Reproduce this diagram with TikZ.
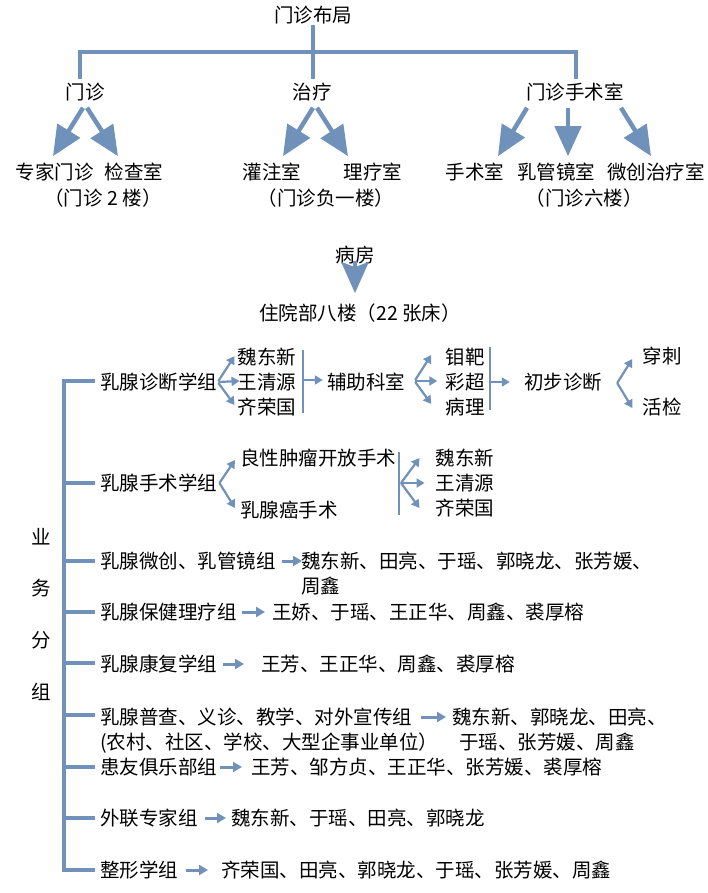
\documentclass[tikz,border=0pt]{standalone}
\usepackage{fontspec}
\setmainfont{Noto Sans CJK SC}
\usetikzlibrary{arrows.meta,calc}
\definecolor{lb}{RGB}{112,146,186}
\begin{document}
\begin{tikzpicture}[x=1pt,y=-1pt,
  every node/.style={inner sep=0pt, text height=16.8pt, text depth=2.4pt, font=\fontsize{19.5}{24}\selectfont},
  tree/.style={draw=lb, line width=4.5pt},
  bigarrow/.style={draw=lb, line width=4.5pt, -{Triangle[length=30pt,width=26pt]}},
  smallarrow/.style={draw=lb, line width=2.2pt, -{Triangle[length=8pt,width=9pt]}},
  midarrow/.style={draw=lb, line width=3pt, -{Triangle[length=9pt,width=10pt]}},
  vbar/.style={draw=lb, line width=2pt}
]
\useasboundingbox (0,0) rectangle (707,893);

% ---------- top: outpatient layout ----------
\node (root) at (313,15) {门诊布局};
\node (mz) at (85,92) {门诊};
\node (zl) at (312,92) {治疗};
\node (ss) at (575,92) {门诊手术室};
\node (zjmz) at (55,172) {专家门诊};
\node (jcs) at (134,172) {检查室};
\node (gzs) at (272,172) {灌注室};
\node (lls) at (373,172) {理疗室};
\node (sss) at (475,172) {手术室};
\node (rgj) at (556,172) {乳管镜室};
\node (wcz) at (656,172) {微创治疗室};
\node (f1) at (103,198) {（门诊 2 楼）};
\node (f2) at (326,198) {（门诊负一楼）};
\node (f3) at (584,198) {（门诊六楼）};

\coordinate (bar) at (313,52);
\draw[tree] (root.south) -- ($(zl.north)+(1,-3)$);
\draw[tree] ($(mz.north)+(-5,-3)$) |- (bar) -| ($(ss.north)+(1,-3)$);

\draw[bigarrow] ($(mz.south)+(-2,6)$) -- ($(zjmz.north)+(-2,-6)$);
\draw[bigarrow] ($(mz.south)+(2,6)$) -- ($(jcs.north)+(-16,-6)$);
\draw[bigarrow] ($(zl.south)+(1,6)$) -- ($(gzs.north)+(11,-6)$);
\draw[bigarrow] ($(zl.south)+(5,6)$) -- ($(lls.north)+(-25,-6)$);
\draw[bigarrow] ($(ss.south)+(-48,6)$) -- ($(sss.north)+(23,-6)$);
\draw[bigarrow] ($(ss.south)+(-7,6)$) -- ($(rgj.north)+(12,-6)$);
\draw[bigarrow] ($(ss.south)+(46,6)$) -- ($(wcz.north)+(-5,-6)$);

% ---------- ward ----------
\node (bf) at (355,255) {病房};
\node (zy) at (360,313) {住院部八楼（22 张床）};
\draw[draw=lb, line width=4.5pt, -{Stealth[length=31pt,width=27pt,inset=5pt]}] ($(bf.south)+(0,-4)$) -- ($(zy.north)+(-5,-10)$);

% ---------- diagnosis group ----------
\node[anchor=west] (zd) at (100,382) {乳腺诊断学组};
\node (n1) at (267,357) {魏东新};
\node (n2) at (267,382) {王清源};
\node (n3) at (267,407) {齐荣国};
\coordinate (v1t) at (303,350);
\coordinate (v1b) at (303,413);
\coordinate (v1m) at (304,380);
\draw[vbar] (v1t) -- (v1b);
\node (fz) at (366,382) {辅助科室};
\node (m1) at (465,357) {钼靶};
\node (m2) at (465,382) {彩超};
\node (m3) at (465,407) {病理};
\coordinate (v2t) at (490,347);
\coordinate (v2b) at (490,410);
\coordinate (v2m) at (491,382);
\draw[vbar] (v2t) -- (v2b);
\node (cb) at (563,382) {初步诊断};
\node (c1) at (662,356) {穿刺};
\node (c2) at (662,407) {活检};

\draw[smallarrow] ($(zd.east)+(1,-1)$) -- ($(n1.west)+(-3,-1)$);
\draw[smallarrow] ($(zd.east)+(1,0)$) -- ($(n2.west)+(2,-1)$);
\draw[smallarrow] ($(zd.east)+(1,1)$) -- ($(n3.west)+(-3,-2)$);
\draw[smallarrow] (v1m) -- ($(fz.west)+(-4,-2)$);
\draw[smallarrow] ($(fz.east)+(10,-2)$) -- ($(m1.west)+(-14,-2)$);
\draw[smallarrow] ($(fz.east)+(10,-1)$) -- ($(m2.west)+(-8,-1)$);
\draw[smallarrow] ($(fz.east)+(10,0)$) -- ($(m3.west)+(-14,-3)$);
\draw[smallarrow] (v2m) -- ($(cb.west)+(-14,0)$);
\draw[smallarrow] ($(cb.east)+(15,1)$) -- ($(c1.west)+(-10,3)$);
\draw[smallarrow] ($(cb.east)+(15,1)$) -- ($(c2.west)+(-10,1)$);

% ---------- surgery group ----------
\node[anchor=west] (sg) at (100,483) {乳腺手术学组};
\node[anchor=west] (lx) at (240,458) {良性肿瘤开放手术};
\node[anchor=west] (ra) at (240,510) {乳腺癌手术};
\draw[smallarrow] ($(sg.east)+(2,0)$) -- ($(lx.west)+(-5,2)$);
\draw[smallarrow] ($(sg.east)+(2,0)$) -- ($(ra.west)+(-5,-2)$);
\coordinate (v3t) at (399,452);
\coordinate (v3b) at (399,515);
\coordinate (v3m) at (401,483);
\draw[vbar] (v3t) -- (v3b);
\node (s1) at (465,458) {魏东新};
\node (s2) at (465,483) {王清源};
\node (s3) at (465,508) {齐荣国};
\draw[smallarrow] (v3m) -- ($(s1.west)+(-16,0)$);
\draw[smallarrow] (v3m) -- ($(s2.west)+(-11,0)$);
\draw[smallarrow] (v3m) -- ($(s3.west)+(-16,0)$);

% ---------- other groups ----------
\node[anchor=west] (g3) at (100,561) {乳腺微创、乳管镜组};
\node[anchor=west] (p3) at (301,561) {魏东新、田亮、于瑶、郭晓龙、张芳媛、};
\node[anchor=west] (q3) at (301,586) {周鑫};
\draw[midarrow] ($(g3.east)+(6,0)$) -- ($(p3.west)+(1,0)$);

\node[anchor=west] (g4) at (100,612) {乳腺保健理疗组};
\node[anchor=west] (p4) at (272,612) {王娇、于瑶、王正华、周鑫、裘厚榕};
\draw[midarrow] ($(g4.east)+(5,0)$) -- ($(p4.west)+(-7,0)$);

\node[anchor=west] (g5) at (100,664) {乳腺康复学组};
\node[anchor=west] (p5) at (261,664) {王芳、王正华、周鑫、裘厚榕};
\draw[midarrow] ($(g5.east)+(6,0)$) -- ($(p5.west)+(-17,0)$);

\node[anchor=west] (g6a) at (100,717) {乳腺普查、义诊、教学、对外宣传组};
\node[anchor=west] (p6a) at (452,717) {魏东新、郭晓龙、田亮、};
\node[anchor=west] (g6b) at (100,742) {(农村、社区、学校、大型企事业单位）};
\node[anchor=west] (p6b) at (459,742) {于瑶、张芳媛、周鑫};
\draw[midarrow] ($(g6a.east)+(9,0)$) -- ($(p6a.west)+(-6,0)$);

\node[anchor=west] (g7) at (100,767) {患友俱乐部组};
\node[anchor=west] (p7) at (251,767) {王芳、邹方贞、王正华、张芳媛、裘厚榕};
\draw[midarrow] ($(g7.east)+(3,0)$) -- ($(p7.west)+(-9,0)$);

\node[anchor=west] (g8) at (100,818) {外联专家组};
\node[anchor=west] (p8) at (231,818) {魏东新、于瑶、田亮、郭晓龙};
\draw[midarrow] ($(g8.east)+(7,0)$) -- ($(p8.west)+(-5,0)$);

\node[anchor=west] (g9) at (100,870) {整形学组};
\node[anchor=west] (p9) at (221,870) {齐荣国、田亮、郭晓龙、于瑶、张芳媛、周鑫};
\draw[midarrow] ($(g9.east)+(8,0)$) -- ($(p9.west)+(-13,0)$);

% main bracket
\draw[tree] ($(zd.west)+(-5,-1)$) -| ($(g9.west)+(-36,0)$) -- ($(g9.west)+(-5,0)$);
\draw[tree] ($(sg.west)+(-5,0)$) -- ($(sg.west)+(-38,0)$);
\draw[tree] ($(g3.west)+(-5,0)$) -- ($(g3.west)+(-38,0)$);
\draw[tree] ($(g4.west)+(-5,0)$) -- ($(g4.west)+(-38,0)$);
\draw[tree] ($(g5.west)+(-5,-1)$) -- ($(g5.west)+(-38,-1)$);
\draw[tree] ($(g6a.west)+(-5,-2)$) -- ($(g6a.west)+(-38,-2)$);
\draw[tree] ($(g7.west)+(-5,0)$) -- ($(g7.west)+(-38,0)$);
\draw[tree] ($(g8.west)+(-5,0)$) -- ($(g8.west)+(-38,0)$);

% vertical label
\node (y1) at (41,537) {业};
\node (y2) at (41,588) {务};
\node (y3) at (41,640) {分};
\node (y4) at (41,692) {组};
\end{tikzpicture}
\end{document}
